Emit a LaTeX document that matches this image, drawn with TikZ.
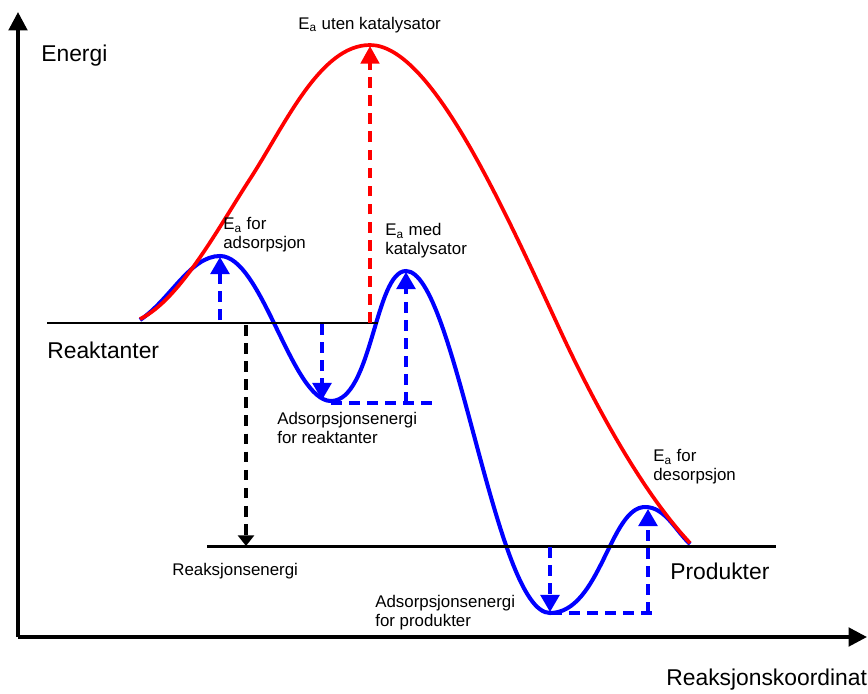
\documentclass[tikz,border=0pt]{standalone}
\usepackage{fontspec}
\setmainfont{Liberation Sans}
\usetikzlibrary{arrows.meta}
\definecolor{cblue}{RGB}{0,0,255}
\definecolor{cred}{RGB}{255,0,0}
\begin{document}
\begin{tikzpicture}[x=0.02cm,y=-0.02cm,
  axis/.style={line width=2.1pt,-{Triangle[width=10.5pt,length=10.5pt]}},
  level/.style={line width=1.7pt},
  redcurve/.style={cred,line width=2.1pt},
  bluecurve/.style={cblue,line width=2.3pt},
  bdash/.style={cblue,line width=1.9pt,dash pattern=on 6pt off 4.3pt},
  barrow/.style={bdash,-{Triangle[width=10.8pt,length=9.8pt]}},
  rarrow/.style={cred,line width=1.9pt,dash pattern=on 6pt off 4.3pt,-{Triangle[width=10.5pt,length=10pt]}},
  karrow/.style={black,line width=1.8pt,dash pattern=on 6pt off 4.3pt,-{Triangle[width=9pt,length=6pt]}},
  big/.style={font=\fontsize{13}{15}\selectfont,inner sep=0pt,anchor=west},
  small/.style={font=\fontsize{9.6}{10.8}\selectfont,inner sep=0pt,anchor=west,align=left}]
\useasboundingbox (0,0) rectangle (868,693);
% axes
\coordinate (O) at (18,637);
\coordinate (ytop) at (18,12);
\coordinate (xend) at (867,637);
\draw[axis] (O) -- (ytop);
\draw[axis] (O) -- (xend);
% levels
\coordinate (rl) at (47,323); \coordinate (rr) at (378,323);
\coordinate (pl) at (207,546); \coordinate (pr) at (776,546);
% curves
\draw[bluecurve] (140,320) .. controls (170,300) and (190,256) .. (220,256)
  .. controls (262,256) and (292,401) .. (331,401)
  .. controls (372,401) and (375,271) .. (406,271)
  .. controls (455,271) and (495,613) .. (550,613)
  .. controls (600,613) and (610,507) .. (645,507)
  .. controls (665,507) and (675,530) .. (690,544);
\draw[redcurve] (140,319) .. controls (180,300) and (220,225) .. (250,179)
  .. controls (285,125) and (320,45) .. (370,45)
  .. controls (430,45) and (500,200) .. (560,330)
  .. controls (590,395) and (640,490) .. (690,543);
\draw[level] (rl) -- (rr);
\draw[level] (pl) -- (pr);
% arrows
\coordinate (ra1) at (370,323); \coordinate (ra2) at (370,46);
\draw[rarrow] (ra1) -- (ra2);
\coordinate (b1a) at (220,320); \coordinate (b1b) at (220,257);
\draw[barrow] (b1a) -- (b1b);
\coordinate (b2a) at (322,324); \coordinate (b2b) at (322,400);
\draw[barrow] (b2a) -- (b2b);
\coordinate (h1a) at (331,403); \coordinate (h1b) at (433,403);
\draw[bdash] (h1a) -- (h1b);
\coordinate (b3a) at (406,403); \coordinate (b3b) at (406,272);
\draw[barrow] (b3a) -- (b3b);
\coordinate (ka) at (246,325); \coordinate (kb) at (246,546);
\draw[karrow] (ka) -- (kb);
\coordinate (b4a) at (550,547); \coordinate (b4b) at (550,612);
\draw[barrow] (b4a) -- (b4b);
\coordinate (h2a) at (551,613); \coordinate (h2b) at (655,613);
\draw[bdash] (h2a) -- (h2b);
\coordinate (b5a) at (648,613); \coordinate (b5b) at (648,509);
\draw[barrow] (b5a) -- (b5b);
% labels
\node[big] (energi) at (41,56) {Energi};
\node[big] (reak) at (47,350) {Reaktanter};
\node[big] (prod) at (670,571) {Produkter};
\node[big] (koord) at (666,680) {Reaksjonskoordinat};
\node[small] (uten) at (298,25) {E\textsubscript{a} uten katalysator};
\node[small] (ads) at (223,235) {E\textsubscript{a} for\\adsorpsjon};
\node[small] (med) at (385,241) {E\textsubscript{a} med\\katalysator};
\node[small] (adsr) at (277,428) {Adsorpsjonsenergi\\for reaktanter};
\node[small] (des) at (653,467) {E\textsubscript{a} for\\desorpsjon};
\node[small] (renergi) at (172,571) {Reaksjonsenergi};
\node[small] (adsp) at (375,613) {Adsorpsjonsenergi\\for produkter};
\end{tikzpicture}
\end{document}
